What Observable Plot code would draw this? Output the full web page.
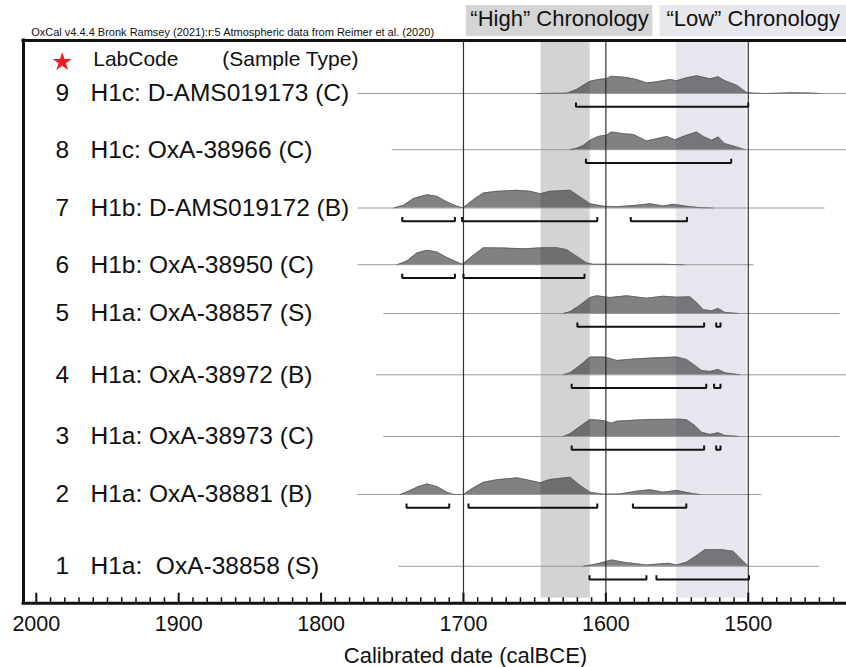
<!DOCTYPE html>
<html>
<head>
<meta charset="utf-8">
<script src="https://cdn.jsdelivr.net/npm/d3@7"></script>
<script src="https://cdn.jsdelivr.net/npm/@observablehq/plot@0.6"></script>
<style>
  html, body { margin: 0; padding: 0; background: #fff; }
  svg { display: block; }
</style>
</head>
<body>
<div id="chart"></div>
<script>
// ---------------- data ----------------
const oxcalNote = "OxCal v4.4.4 Bronk Ramsey (2021):r:5 Atmospheric data from Reimer et al. (2020)";
const axisTitle = "Calibrated date (calBCE)";
const tickValues = [2000, 1900, 1800, 1700, 1600, 1500];
const tickLabels = ["2000", "1900", "1800", "1700", "1600", "1500"];
const refYears = [1700, 1600, 1500];

const chronoBands = [
  {name: "High", from: 1645.5, to: 1611},
  {name: "Low", from: 1550.5, to: 1501}
];
const chronoHeaders = [
  {text: "\u201CHigh\u201D Chronology", from: 1698, to: 1567},
  {text: "\u201CLow\u201D Chronology", from: 1562, to: 1431}
];

const rowNumbers = [9, 8, 7, 6, 5, 4, 3, 2, 1];
const rowLabels = [
  "H1c: D-AMS019173 (C)",
  "H1c: OxA-38966 (C)",
  "H1b: D-AMS019172 (B)",
  "H1b: OxA-38950 (C)",
  "H1a: OxA-38857 (S)",
  "H1a: OxA-38972 (B)",
  "H1a: OxA-38973 (C)",
  "H1a: OxA-38881 (B)",
  "H1a:\u00A0 OxA-38858 (S)"
];
// extent of each row's plotted date range (calBCE)
const lineFrom = [1774, 1750, 1774, 1774, 1756, 1761, 1756, 1774, 1745.5];
const lineTo   = [1431, 1431, 1446, 1496, 1435.5, 1431, 1435.5, 1490.5, 1450];

// relative probability (peak = 1) at calendar years BCE
const dens9 = [[1648,0],[1627.4,0.02],[1620.3,0.23],[1615.7,0.47],[1611,0.69],[1605.2,0.79],[1599.3,0.85],[1595.8,0.98],[1585.3,0.9],[1578.3,0.79],[1571.3,0.6],[1564.2,0.66],[1554.8,0.79],[1550.2,0.72],[1543.2,0.89],[1536.2,1],[1526.8,0.83],[1521,0.94],[1516.3,0.72],[1508.1,0.47],[1501.1,0.06],[1496.4,0.02],[1488,0],[1480,0.01],[1470,0.04],[1458,0.03],[1450,0]];
const dens8 = [[1625,0],[1620.3,0.08],[1615.7,0.24],[1611,0.53],[1605.2,0.75],[1599.3,0.83],[1595.8,1],[1587.6,0.9],[1580.6,0.86],[1575.9,0.68],[1571.3,0.49],[1564.2,0.62],[1557.2,0.75],[1551.4,0.56],[1545.6,0.75],[1536.2,1],[1531.5,0.75],[1525.6,0.53],[1521,0.72],[1516.3,0.34],[1508.1,0.15],[1502.3,0]];
const dens7 = [[1749,0],[1742,0.15],[1735,0.53],[1725.6,0.75],[1718.6,0.66],[1711.5,0.34],[1704.5,0.1],[1701,0.02],[1698.7,0.1],[1692.9,0.47],[1685.9,0.85],[1676.5,0.94],[1662.4,1],[1653.1,0.94],[1646.1,0.81],[1639.1,0.94],[1625,1],[1618,0.62],[1611,0.24],[1601.7,0.1],[1592.3,0.07],[1578.3,0.15],[1568.9,0.24],[1559.6,0.11],[1552.6,0.21],[1543.2,0.1],[1533.9,0.02],[1525,0]];
const dens6 = [[1746.6,0],[1739.6,0.21],[1732.6,0.66],[1725.6,0.81],[1718.6,0.72],[1711.5,0.4],[1704.5,0.15],[1701,0.03],[1698.7,0.15],[1692.9,0.53],[1685.9,0.96],[1671.8,0.94],[1657.8,0.9],[1643.8,0.96],[1634.4,0.96],[1627.4,0.85],[1620.3,0.47],[1613.3,0.1],[1608.7,0.02],[1590,0.02],[1560,0.02],[1545,0]];
const dens5 = [[1629.7,0],[1625,0.1],[1618,0.47],[1611,0.9],[1606.3,1],[1597,0.9],[1585.3,1],[1571.3,0.86],[1559.6,0.98],[1550.2,0.92],[1540.9,0.94],[1536.2,0.62],[1531.5,0.21],[1525.6,0.15],[1521,0.28],[1516.3,0.06],[1506.9,0]];
const dens4 = [[1629.7,0],[1625,0.11],[1618,0.53],[1611,1],[1600.5,1],[1592.3,0.81],[1578.3,0.9],[1564.2,0.96],[1550.2,1],[1543.2,0.86],[1537.4,0.53],[1532.7,0.24],[1526.8,0.19],[1521,0.3],[1516.3,0.11],[1506,0]];
const dens3 = [[1629.7,0],[1625,0.15],[1618,0.56],[1611,0.96],[1601.7,0.9],[1595.8,0.75],[1592.3,0.86],[1580.6,0.92],[1568.9,0.96],[1547.9,0.98],[1543.2,0.94],[1537.4,0.62],[1532.7,0.24],[1526.8,0.11],[1521,0.21],[1516.3,0.06],[1506.9,0]];
const dens2 = [[1744.3,0],[1737.3,0.23],[1731.5,0.45],[1725.6,0.6],[1718.6,0.45],[1711.5,0.13],[1706.9,0],[1699.9,0],[1692.9,0.38],[1685.9,0.69],[1676.5,0.83],[1662.4,0.94],[1653.1,0.79],[1646.1,0.66],[1639.1,0.85],[1625,0.98],[1618,0.51],[1611,0.13],[1601.7,0.02],[1590,0.03],[1578.3,0.19],[1568.9,0.27],[1559.6,0.13],[1550.2,0.23],[1538.5,0.04],[1534,0]];
const dens1 = [[1615.7,0],[1606.3,0.13],[1595.8,0.36],[1587.6,0.23],[1571.3,0.07],[1556.1,0.17],[1550.2,0.07],[1543.2,0.23],[1536.2,0.6],[1530.3,0.94],[1518.6,0.94],[1510.5,0.85],[1502.3,0.19],[1500,0]];

// highest-probability-density ranges (calBCE)
const hpd9 = [[1621, 1500]];
const hpd8 = [[1614, 1512]];
const hpd7 = [[1743, 1706], [1701, 1606], [1582.5, 1543]];
const hpd6 = [[1743, 1706], [1700, 1615]];
const hpd5 = [[1620, 1531], [1522.5, 1519.5]];
const hpd4 = [[1624, 1529.5], [1524, 1519.5]];
const hpd3 = [[1624, 1531], [1522.5, 1519.5]];
const hpd2 = [[1740, 1710], [1696.5, 1606], [1581, 1543.5]];
const hpd1 = [[1611.5, 1571.5], [1564.5, 1499.5]];

const densList = [dens9, dens8, dens7, dens6, dens5, dens4, dens3, dens2, dens1];
const hpdList = [hpd9, hpd8, hpd7, hpd6, hpd5, hpd4, hpd3, hpd2, hpd1];

// ---------------- layout ----------------
const W = 846, H = 667;
const mTop = 40, mBottom = 64.3, mLeft = 23, mRight = 0;
const frameH = H - mTop - mBottom;
const xDomain = [2009, 1431];
// row positions (rows are not evenly spaced in the figure): piecewise row -> frame position
const rowKnots = [0.5, 1, 2, 3, 4, 5, 6, 7, 8, 9, 9.9];
const rowPos   = [602.7, 565.8, 494, 436, 374.3, 313, 264.2, 207.5, 149.2, 93, 40];
const peakPx = 17.7, bracketGap = 13.3, bracketTick = 4.3;

const rowScale = d3.scaleLinear(rowKnots, rowPos);
const lift = (row, px) => rowScale.invert(rowScale(row) + px);
const yBottom = rowKnots[0], yTop = rowKnots[rowKnots.length - 1];

const rowsData = rowNumbers.map((row, i) => ({row, label: rowLabels[i], lineFrom: lineFrom[i], lineTo: lineTo[i]}));

const densityPts = rowNumbers.flatMap((row, i) =>
  densList[i].map(([x, p]) => ({row, x, y1: row, y2: lift(row, -p * peakPx)})));

const bracketPts = rowNumbers.flatMap((row, i) =>
  hpdList[i].flatMap(([a, b], j) => {
    const id = row + "-" + j, lo = lift(row, bracketGap), up = lift(row, bracketGap - bracketTick);
    return [{id, x: a, y: up}, {id, x: a, y: lo}, {id, x: b, y: lo}, {id, x: b, y: up}];
  }));

const minorTicks = d3.range(1990, 1431, -10).filter(t => t % 100 !== 0);

const font = "'Liberation Sans', Arial, Helvetica, sans-serif";
const ink = "#111";

const chart = Plot.plot({
  width: W, height: H,
  marginTop: mTop, marginBottom: mBottom, marginLeft: mLeft, marginRight: mRight,
  x: {domain: xDomain, axis: null},
  y: {transform: rowScale, domain: [rowScale(yBottom), rowScale(yTop)], axis: null},
  style: {fontFamily: font, background: "#fff", color: ink, overflow: "visible"},
  marks: [
    // chronology bands
    Plot.rect([chronoBands[0]], {x1: "from", x2: "to", fill: "#d3d3d3", insetBottom: 5}),
    Plot.rect([chronoBands[1]], {x1: "from", x2: "to", fill: "#e6e6ee", insetBottom: 5}),
    // headers above the frame
    Plot.rect([chronoHeaders[0]], {x1: "from", x2: "to", fill: "#d5d5d5", insetTop: -35, insetBottom: frameH + 4}),
    Plot.rect([chronoHeaders[1]], {x1: "from", x2: "to", fill: "#e7e7ee", insetTop: -35, insetBottom: frameH + 4}),
    Plot.text(chronoHeaders, {x: d => (d.from + d.to) / 2, frameAnchor: "top", dy: -21.5, text: "text", fontSize: 22, lineAnchor: "middle", fill: ink}),
    Plot.text([oxcalNote], {frameAnchor: "top-left", dx: 7.7, dy: -8.3, text: d => d, textAnchor: "start", lineAnchor: "middle", fontSize: 11, fill: ink}),
    // row baselines
    Plot.ruleY(rowsData, {y: "row", x1: "lineFrom", x2: "lineTo", stroke: "#9a9a9a", strokeWidth: 1}),
    // reference lines
    Plot.ruleX(refYears, {stroke: "#333", strokeWidth: 1.2}),
    // probability distributions
    Plot.area(densityPts, {x1: "x", y1: "y1", y2: "y2", z: "row", fill: "#1e1e1e", fillOpacity: 0.56, curve: "linear"}),
    Plot.line(densityPts, {x: "x", y: "y2", z: "row", stroke: "#5a5a5a", strokeWidth: 0.7, curve: "linear"}),
    // hpd brackets
    Plot.line(bracketPts, {x: "x", y: "y", z: "id", stroke: ink, strokeWidth: 2, strokeLinejoin: "miter", strokeLinecap: "butt"}),
    // frame
    Plot.ruleX([xDomain[0]], {stroke: ink, strokeWidth: 3, strokeLinecap: "square"}),
    Plot.ruleY([yTop], {stroke: ink, strokeWidth: 3, strokeLinecap: "square"}),
    Plot.ruleY([yBottom], {stroke: ink, strokeWidth: 3, strokeLinecap: "square"}),
    // ticks (pointing inward)
    Plot.tickX(tickValues, {x: d => d, stroke: ink, strokeWidth: 2, insetTop: frameH - 10}),
    Plot.tickX(minorTicks, {x: d => d, stroke: ink, strokeWidth: 1.5, insetTop: frameH - 5.5}),
    Plot.text(tickValues, {x: d => d, text: (d, i) => tickLabels[i], frameAnchor: "bottom", dy: 20.5, fontSize: 21.5, lineAnchor: "middle", fill: ink}),
    Plot.text([axisTitle], {frameAnchor: "bottom", dx: 30.5, dy: 52.5, text: d => d, fontSize: 22, lineAnchor: "middle", fill: ink}),
    // legend row
    Plot.dot([0], {frameAnchor: "top-left", dx: 38.7, dy: 21.5, symbol: "star", r: 6, fill: "#ee1c24", stroke: "none"}),
    Plot.text(["LabCode"], {frameAnchor: "top-left", dx: 69.7, dy: 18.3, text: d => d, textAnchor: "start", lineAnchor: "middle", fontSize: 21, fill: ink}),
    Plot.text(["(Sample Type)"], {frameAnchor: "top-left", dx: 198.7, dy: 18.3, text: d => d, textAnchor: "start", lineAnchor: "middle", fontSize: 21, fill: ink}),
    // row labels
    Plot.text(rowsData, {y: "row", frameAnchor: "left", dx: 32, text: d => String(d.row), textAnchor: "start", lineAnchor: "middle", fontSize: 24.5, fill: ink}),
    Plot.text(rowsData, {y: "row", frameAnchor: "left", dx: 67, text: "label", textAnchor: "start", lineAnchor: "middle", fontSize: 24.5, fill: ink})
  ]
});

document.getElementById("chart").appendChild(chart);
</script>
</body>
</html>
